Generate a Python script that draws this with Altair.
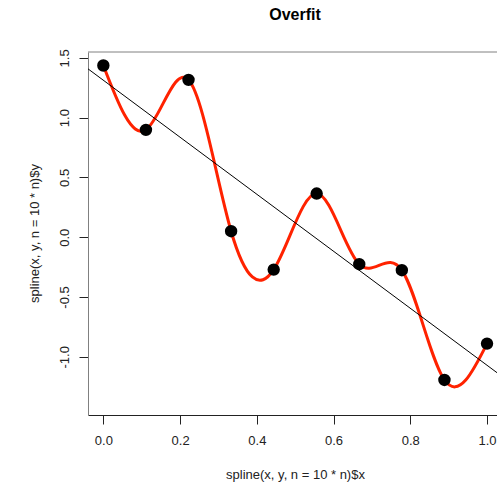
import altair as alt
import pandas as pd

# Data
x_vals = [0.000, 0.111, 0.222, 0.333, 0.444, 0.556, 0.667, 0.778, 0.889, 1.000]
y_vals = [1.436, 0.898, 1.316, 0.050, -0.271, 0.365, -0.226, -0.276, -1.194, -0.890]
x_ticks = [0.0, 0.2, 0.4, 0.6, 0.8, 1.0]
y_ticks = [-1.0, -0.5, 0.0, 0.5, 1.0, 1.5]
x_domain = [-0.04, 1.026]
y_domain = [-1.487, 1.549]

title_text = "Overfit"
x_title = "spline(x, y, n = 10 * n)$x"
y_title = "spline(x, y, n = 10 * n)$y"

df = pd.DataFrame({"x": x_vals, "y": y_vals})

W, H = 409, 363
FONT = "Liberation Sans"
LBL = "replace(format(datum.value, '.1f'), '\u2212', '-')"

xs = alt.Scale(domain=x_domain, nice=False, zero=False)
ys = alt.Scale(domain=y_domain, nice=False, zero=False)

x_enc = alt.X(
    "x:Q", scale=xs,
    axis=alt.Axis(values=x_ticks, labelExpr=LBL, title=x_title,
                  tickSize=9, labelPadding=10, domainColor="#222222",
                  titleX=207, titleY=59, titleAlign="center", titleBaseline="middle"),
)
y_enc = alt.Y(
    "y:Q", scale=ys,
    axis=alt.Axis(values=y_ticks, labelExpr=LBL, title=y_title,
                  tickSize=9, labelPadding=8, labelAngle=270,
                  labelAlign="center", labelBaseline="bottom",
                  domainColor="#808080",
                  titleAngle=270, titleX=-54, titleY=181,
                  titleAlign="center", titleBaseline="middle"),
)

base = alt.Chart(df)

curve = base.mark_line(color="#ff2200", strokeWidth=3, interpolate="natural", clip=True).encode(
    x=x_enc, y=y_enc
)
points = base.mark_circle(color="black", size=154, opacity=1).encode(x=x_enc, y=y_enc)
fit = base.transform_regression("x", "y", extent=[-0.2, 1.2]).mark_line(
    color="black", strokeWidth=1, clip=True
).encode(x=x_enc, y=y_enc)

frame_top = alt.Chart(pd.DataFrame({"a": [0]})).mark_rule(color="#808080", strokeWidth=1).encode(
    x=alt.value(0), x2=alt.value(W), y=alt.value(0)
)

chart = (
    alt.layer(curve, points, fit, frame_top)
    .properties(
        width=W, height=H, autosize="none",
        padding={"left": 88, "top": 52, "right": 0, "bottom": 75},
        title=alt.TitleParams(title_text, fontSize=16, fontWeight="bold", font=FONT,
                              anchor="middle", dx=2.5, baseline="middle", offset=18,
                              color="black"),
    )
    .configure_view(stroke=None)
    .configure_axis(grid=False, labelFont=FONT, titleFont=FONT, labelFontSize=13,
                    titleFontSize=13, labelColor="#222222", titleColor="#222222",
                    titleFontWeight="normal", tickColor="#222222", domainWidth=1, tickWidth=1)
)

chart.save("out.html", embed_options={"renderer": "svg", "actions": False})
